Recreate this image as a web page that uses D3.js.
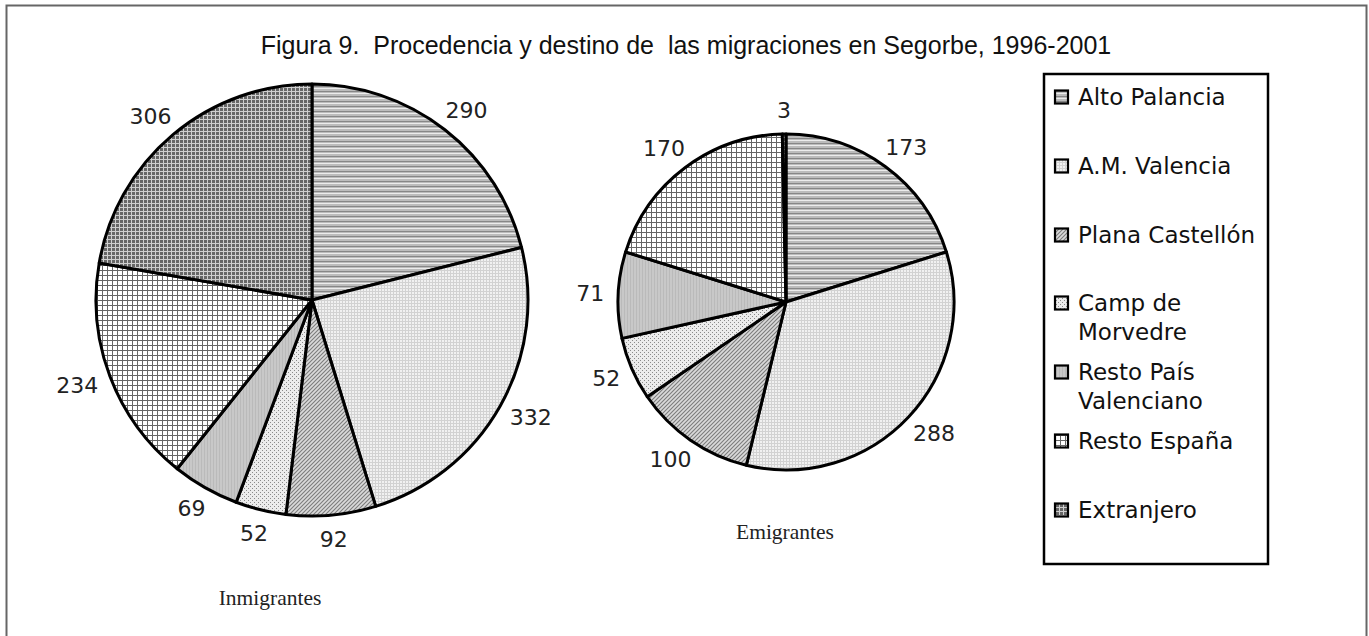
<!DOCTYPE html>
<html>
<head>
<meta charset="utf-8">
<script src="https://cdn.jsdelivr.net/npm/d3@7"></script>
<style>
  body { margin: 0; background: #fff; }
  svg { display: block; }
  .val { font-family: "DejaVu Sans", sans-serif; font-size: 22px; fill: #222; }
  .leg { font-family: "DejaVu Sans", sans-serif; font-size: 23px; fill: #111; }
  .cap { font-family: "Liberation Serif", serif; font-size: 21.5px; fill: #222; }
  .title { font-family: "Liberation Sans", Arial, sans-serif; font-size: 25px; fill: #111; white-space: pre; }
</style>
</head>
<body>
<div id="chart"></div>
<script>
// data
const categories = ["Alto Palancia", "A.M. Valencia", "Plana Castellón", "Camp de Morvedre",
                    "Resto País Valenciano", "Resto España", "Extranjero"];
const legendLines = [["Alto Palancia"], ["A.M. Valencia"], ["Plana Castellón"], ["Camp de", "Morvedre"],
                     ["Resto País", "Valenciano"], ["Resto España"], ["Extranjero"]];
const inmigrantes = [290, 332, 92, 52, 69, 234, 306];
const emigrantes = [173, 288, 100, 52, 71, 170, 3];
const titleText = "Figura 9.  Procedencia y destino de  las migraciones en Segorbe, 1996-2001";

const W = 1369, H = 636;
const svg = d3.select("#chart").append("svg").attr("width", W).attr("height", H);
const defs = svg.append("defs");

// fill patterns, one per category
function pat(id, w, h, bg, draw) {
    const p = defs.append("pattern").attr("id", id)
        .attr("patternUnits", "userSpaceOnUse").attr("width", w).attr("height", h);
    p.append("rect").attr("width", w).attr("height", h).attr("fill", bg);
    draw(p);
}
pat("p0", 4, 5, "#bcbcbc", p => {
    p.append("rect").attr("y", 1).attr("width", 4).attr("height", 1).attr("fill", "#878787");
    p.append("rect").attr("y", 3).attr("width", 4).attr("height", 1).attr("fill", "#ececec");
});
pat("p1", 3, 3, "#f1f1f1", p => {
    p.append("rect").attr("width", 3).attr("height", 1).attr("fill", "#d2d2d2");
    p.append("rect").attr("width", 1).attr("height", 3).attr("fill", "#d2d2d2");
});
pat("p2", 4, 4, "#dadada", p => {
    p.append("path").attr("d", "M-1,5 L5,-1 M-1,1 L1,-1 M3,5 L5,3").attr("stroke", "#7c7c7c").attr("stroke-width", 1.1);
});
pat("p3", 4, 4, "#ececec", p => {
    p.append("rect").attr("width", 1).attr("height", 1).attr("fill", "#8a8a8a");
    p.append("rect").attr("x", 2).attr("y", 2).attr("width", 1).attr("height", 1).attr("fill", "#8a8a8a");
});
pat("p4", 3, 3, "#c8c8c8", p => {
    p.append("rect").attr("width", 1).attr("height", 3).attr("fill", "#bababa");
});
pat("p5", 5, 5, "#ffffff", p => {
    p.append("rect").attr("width", 5).attr("height", 1).attr("fill", "#666");
    p.append("rect").attr("width", 1).attr("height", 5).attr("fill", "#666");
});
pat("p6", 4, 4, "#676767", p => {
    p.append("rect").attr("y", 3).attr("width", 4).attr("height", 1).attr("fill", "#cfcfcf");
    p.append("rect").attr("x", 3).attr("width", 1).attr("height", 4).attr("fill", "#cfcfcf");
});
const fillOf = i => "url(#p" + i + ")";

// outer frame
svg.append("rect").attr("x", 6.5).attr("y", 5.5).attr("width", 1360).attr("height", 700)
    .attr("fill", "none").attr("stroke", "#666").attr("stroke-width", 2);

svg.append("text").attr("class", "title").attr("x", 686).attr("y", 54)
    .attr("text-anchor", "middle").attr("xml:space", "preserve").text(titleText);

function drawPie(values, cx, cy, r, caption, capX, capY) {
    const pie = d3.pie().sort(null).value(d => d);
    const arc = d3.arc().innerRadius(0).outerRadius(r);
    const g = svg.append("g").attr("transform", "translate(" + cx + "," + cy + ")");
    const arcs = pie(values);

    g.selectAll("path.slice").data(arcs).enter().append("path")
        .attr("class", "slice")
        .attr("d", arc)
        .attr("fill", (d, i) => fillOf(i))
        .attr("stroke", "#000")
        .attr("stroke-width", 3)
        .attr("stroke-linejoin", "round");

    // value labels just outside the rim
    g.selectAll("text.val").data(arcs).enter().append("text")
        .attr("class", "val")
        .attr("text-anchor", "middle")
        .attr("dominant-baseline", "central")
        .text(d => d.data)
        .each(function (d) {
            const a = (d.startAngle + d.endAngle) / 2;
            const w = this.getComputedTextLength();
            const rr = r + 14;
            const x = rr * Math.sin(a) + (w / 2) * Math.sin(a);
            const y = -rr * Math.cos(a) - 10 * Math.cos(a);
            d3.select(this).attr("x", x).attr("y", y);
        });

    svg.append("text").attr("class", "cap").attr("x", capX).attr("y", capY)
        .attr("text-anchor", "middle").attr("dominant-baseline", "central").text(caption);
}

drawPie(inmigrantes, 312, 300, 216, "Inmigrantes", 270, 598);
drawPie(emigrantes, 786, 302, 168, "Emigrantes", 785, 532);

// legend
const legX = 1044, legY = 74, legW = 224, legH = 490;
svg.append("rect").attr("x", legX).attr("y", legY).attr("width", legW).attr("height", legH)
    .attr("fill", "#fff").attr("stroke", "#000").attr("stroke-width", 2.5);

const legRowY = [97, 166, 235, 303, 372, 441, 510];
const leg = svg.append("g");
legendLines.forEach((lines, i) => {
    const y = legRowY[i];
    leg.append("rect").attr("x", 1055).attr("y", y - 6.5).attr("width", 13).attr("height", 13)
        .attr("fill", fillOf(i)).attr("stroke", "#000").attr("stroke-width", 2.2);
    lines.forEach((t, j) => {
        leg.append("text").attr("class", "leg").attr("x", 1078).attr("y", y + j * 29)
            .attr("dominant-baseline", "central").text(t);
    });
});
</script>
</body>
</html>
